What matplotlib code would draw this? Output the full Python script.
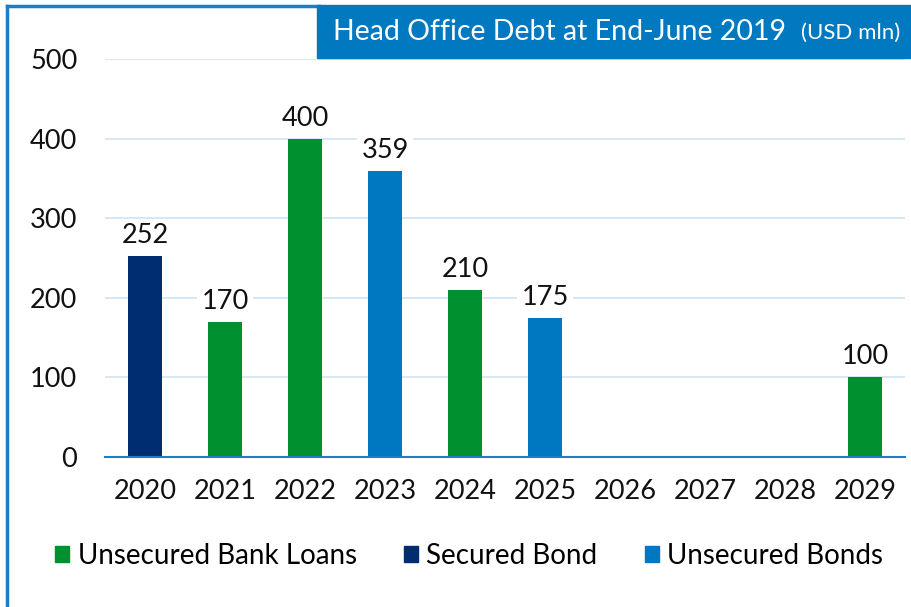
import matplotlib
matplotlib.use("Agg")
import matplotlib.pyplot as plt
from matplotlib.patches import Rectangle, Patch
from matplotlib.lines import Line2D

years = ["2020", "2021", "2022", "2023", "2024", "2025", "2026", "2027", "2028", "2029"]
values = [252, 170, 400, 359, 210, 175, 0, 0, 0, 100]
kinds = ["Secured Bond", "Unsecured Bank Loans", "Unsecured Bank Loans", "Unsecured Bonds",
         "Unsecured Bank Loans", "Unsecured Bonds", None, None, None, "Unsecured Bank Loans"]
series = ["Unsecured Bank Loans", "Secured Bond", "Unsecured Bonds"]
colors = {"Unsecured Bank Loans": "#009030", "Secured Bond": "#002D72", "Unsecured Bonds": "#0077C1"}

plt.rcParams["font.family"] = ["Lato", "DejaVu Sans"]

fig = plt.figure(figsize=(9.11, 6.07), dpi=100)
ax = fig.add_axes([0.1153, 0.2471, 0.878, 0.6557])

x = list(range(len(years)))
for i, (v, k) in enumerate(zip(values, kinds)):
    if not v:
        continue
    ax.bar(i, v, width=0.43, color=colors[k], zorder=3)
    ax.text(i, v + 10, str(v), ha="center", va="bottom", fontsize=19.5, color="#111111",
            zorder=4, bbox=dict(boxstyle="square,pad=0.15", fc="white", ec="none"))

ax.set_xlim(-0.5, len(years) - 0.5)
ax.set_ylim(0, 500)
ax.set_yticks([0, 100, 200, 300, 400, 500])
ax.set_xticks(x)
ax.set_xticklabels(years)
ax.tick_params(axis="both", length=0, labelsize=19.5, colors="#111111")
ax.tick_params(axis="x", pad=16)
ax.tick_params(axis="y", pad=20)
ax.grid(axis="y", color="#cfe3f1", lw=1.2, zorder=0)
for s in ["top", "right", "left"]:
    ax.spines[s].set_visible(False)
ax.spines["bottom"].set_color("#1a7fc8")
ax.spines["bottom"].set_linewidth(1.5)
ax.spines["bottom"].set_zorder(5)

# figure frame (left and top edges)
fig.add_artist(Line2D([0.0075, 0.0075], [0, 0.99], transform=fig.transFigure, color="#1a7fc8", lw=2.5))
fig.add_artist(Line2D([0.0075, 0.35], [0.99, 0.99], transform=fig.transFigure, color="#1a7fc8", lw=2.5))

# title box
fig.add_artist(Rectangle((317 / 911, 1 - 58 / 607), 1 - 317 / 911, 53 / 607,
                         transform=fig.transFigure, color="#0079C1", zorder=10))
fig.text(333 / 911, 1 - 32 / 607, "Head Office Debt at End-June 2019", color="white",
         fontsize=20.5, va="center", ha="left", zorder=11)
fig.text(801 / 911, 1 - 33 / 607, "(USD mln)", color="white",
         fontsize=16, va="center", ha="left", zorder=11)

handles = [Patch(color=colors[s]) for s in series]
fig.legend(handles, series, loc="center", bbox_to_anchor=(0.515, 1 - 556 / 607), ncol=3,
           frameon=False, fontsize=20, handlelength=0.5, handleheight=0.5,
           handletextpad=0.3, columnspacing=1.7)

fig.savefig("out.png", dpi=100)
